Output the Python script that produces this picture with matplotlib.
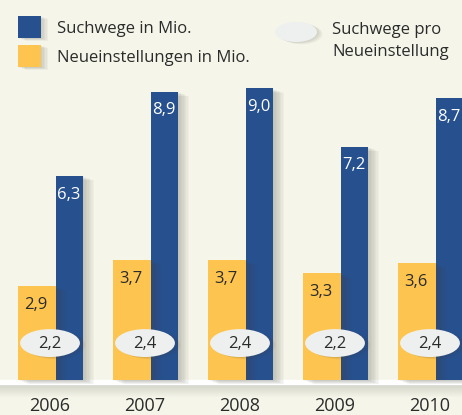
import matplotlib
matplotlib.use('Agg')
import matplotlib.pyplot as plt
import matplotlib.patheffects as pe
from matplotlib.patches import Ellipse, Rectangle
import numpy as np

# Daten
years = ['2006', '2007', '2008', '2009', '2010']
suchwege = [6.3, 8.9, 9.0, 7.2, 8.7]
neueinst = [2.9, 3.7, 3.7, 3.3, 3.6]
pro_neueinst = [2.2, 2.4, 2.4, 2.2, 2.4]

blue = '#26508e'
yellow = '#fdc44f'
bg = '#f5f6e9'
ell_col = '#eef0f0'
txt = '#2b2b2b'

plt.rcParams['font.family'] = ['Open Sans', 'DejaVu Sans']


def soft_shadow(n=6, a=0.045):
    # weicher Schatten aus mehreren versetzten Kopien
    effs = [pe.SimplePatchShadow(offset=(k, -k * 0.4), alpha=a, shadow_rgbFace='#4a4a40')
            for k in range(n, 0, -1)]
    return effs + [pe.Normal()]


fig = plt.figure(figsize=(4.62, 4.15), dpi=100, facecolor=bg)
ax = fig.add_axes([0, 0, 1, 1])
ax.set_facecolor(bg)
ax.set_xlim(-50 / 95, 412 / 95)
ax.set_ylim(-35 / 32.4, 380 / 32.4)
ax.axis('off')

x = np.arange(len(years))

bb = ax.bar(x + 0.058, suchwege, width=0.29, align='edge', color=blue, zorder=2)
yb = ax.bar(x - 0.342, neueinst, width=0.40, align='edge', color=yellow, zorder=3)
for b in list(bb) + list(yb):
    b.set_path_effects(soft_shadow(8, 0.04))

for i in range(len(years)):
    ax.text(x[i] + 0.2, suchwege[i] - 0.33, f'{suchwege[i]:.1f}'.replace('.', ','),
            ha='center', va='top', color='white', fontsize=12, zorder=5)
    ax.text(x[i] - 0.15, neueinst[i] - 0.33, f'{neueinst[i]:.1f}'.replace('.', ','),
            ha='center', va='top', color=txt, fontsize=12, zorder=5)
    e = Ellipse((x[i], 1.14), 0.63, 0.86, facecolor=ell_col, edgecolor='none', zorder=4)
    e.set_path_effects(soft_shadow(4, 0.05))
    ax.add_patch(e)
    ax.text(x[i], 1.12, f'{pro_neueinst[i]:.1f}'.replace('.', ','),
            ha='center', va='center', color=txt, fontsize=12, zorder=5)
    ax.text(x[i], -0.8, years[i], ha='center', va='center', color=txt, fontsize=13)

# Grundlinie mit Schatten
ax.axhspan(-5 / 32.4, 0, color='white', zorder=1)
for k in range(12):
    ax.axhspan(-(5 + k + 1) / 32.4, -(5 + k) / 32.4, color='#9a9a90',
               alpha=0.35 * (1 - k / 12), lw=0, zorder=1)

# Legende (Koordinaten in Pixeln der Abbildung)
lg = fig.add_axes([0, 0, 1, 1])
lg.set_xlim(0, 462)
lg.set_ylim(415, 0)
lg.axis('off')
for yy, c in [(16, blue), (45, yellow)]:
    r = Rectangle((18, yy), 23, 22, facecolor=c, edgecolor='none')
    r.set_path_effects(soft_shadow(5, 0.05))
    lg.add_patch(r)
lg.text(57, 29, 'Suchwege in Mio.', va='center', color=txt, fontsize=12)
lg.text(57, 58, 'Neueinstellungen in Mio.', va='center', color=txt, fontsize=12)
le = Ellipse((296, 32), 42, 20, facecolor=ell_col, edgecolor='none')
le.set_path_effects(soft_shadow(4, 0.05))
lg.add_patch(le)
lg.text(332, 30, 'Suchwege pro', va='center', color=txt, fontsize=12)
lg.text(332, 52, 'Neueinstellung', va='center', color=txt, fontsize=12)

fig.savefig('out.png', dpi=100, facecolor=bg)
